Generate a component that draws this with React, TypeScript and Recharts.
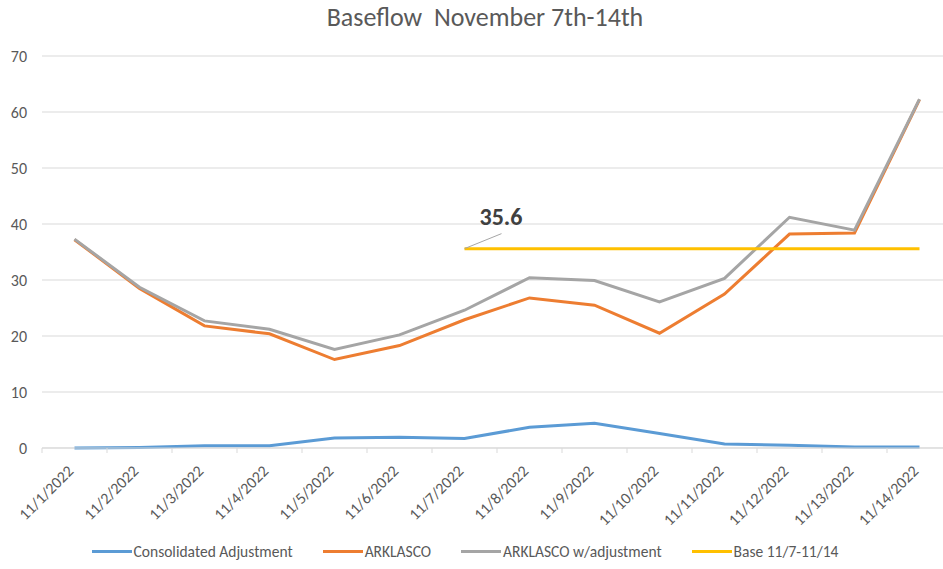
import { LineChart, Line, XAxis, YAxis, CartesianGrid, Legend, LabelList } from "recharts";

const dates = [
  "11/1/2022", "11/2/2022", "11/3/2022", "11/4/2022", "11/5/2022", "11/6/2022", "11/7/2022",
  "11/8/2022", "11/9/2022", "11/10/2022", "11/11/2022", "11/12/2022", "11/13/2022", "11/14/2022",
];
const consolidatedAdjustment = [0, 0.1, 0.4, 0.4, 1.8, 1.9, 1.7, 3.7, 4.4, 2.6, 0.7, 0.5, 0.2, 0.2];
const arklasco = [37.2, 28.5, 21.8, 20.4, 15.8, 18.3, 22.9, 26.8, 25.5, 20.5, 27.5, 38.2, 38.4, 62.2];
const arklascoAdjusted = [37.3, 28.7, 22.7, 21.2, 17.6, 20.2, 24.6, 30.4, 29.9, 26.1, 30.3, 41.2, 38.9, 62.3];
const base = [null, null, null, null, null, null, 35.6, 35.6, 35.6, 35.6, 35.6, 35.6, 35.6, 35.6];
const yTicks = [0, 10, 20, 30, 40, 50, 60, 70];
const legendOrder = ["Consolidated Adjustment", "ARKLASCO", "ARKLASCO w/adjustment", "Base 11/7-11/14"];

const data = dates.map((d, i) => ({
  date: d,
  consolidated: consolidatedAdjustment[i],
  arklasco: arklasco[i],
  adjusted: arklascoAdjusted[i],
  base: base[i],
}));

const FONT = "Carlito, 'Liberation Sans', Arial, sans-serif";
const TEXT = "#595959";
const STEP = 65;

function DateTick(props: any) {
  const { x, y, payload, index } = props;
  const last = index === dates.length - 1;
  return (
    <g>
      <line x1={x - STEP / 2} y1={y - 8} x2={x - STEP / 2} y2={y - 3} stroke="#d9d9d9" />
      {last && <line x1={x + STEP / 2} y1={y - 8} x2={x + STEP / 2} y2={y - 3} stroke="#d9d9d9" />}
      <text
        x={x}
        y={y + 16}
        transform={`rotate(-45, ${x}, ${y + 16})`}
        textAnchor="end"
        fontSize={16}
        fill={TEXT}
        fontFamily={FONT}
      >
        {payload.value}
      </text>
    </g>
  );
}

function BaseLabel(props: any) {
  const { x, y, value, index } = props;
  if (index !== 6) return null;
  return (
    <g>
      <line x1={x} y1={y} x2={x + 37} y2={y - 15} stroke="#a6a6a6" strokeWidth={1} />
      <text x={x + 15} y={y - 24} fontSize={24} fontWeight="bold" fill="#404040" fontFamily={FONT}>
        {value}
      </text>
    </g>
  );
}

function LegendContent(props: any) {
  const items = [...(props.payload || [])].sort(
    (a: any, b: any) => legendOrder.indexOf(a.value) - legendOrder.indexOf(b.value)
  );
  return (
    <div
      style={{
        display: "flex",
        justifyContent: "center",
        fontFamily: FONT,
        fontSize: 15.5,
        color: TEXT,
        paddingRight: 22,
        whiteSpace: "nowrap",
      }}
    >
      {items.map((p: any) => (
        <div key={p.value} style={{ display: "flex", alignItems: "center", margin: "0 15px", flexShrink: 0 }}>
          <span style={{ display: "inline-block", width: 40, height: 3, background: p.color, marginRight: 2 }} />
          <span>{p.value}</span>
        </div>
      ))}
    </div>
  );
}

export default function App() {
  return (
    <div style={{ position: "absolute", left: 0, top: 0, width: 943, height: 569, overflow: "hidden", background: "#fff" }}>
      <div
        style={{
          position: "absolute",
          top: 1,
          left: 0,
          width: 970,
          textAlign: "center",
          fontFamily: FONT,
          fontSize: 26,
          color: TEXT,
          whiteSpace: "pre",
        }}
      >
        {"Baseflow  November 7th-14th"}
      </div>
      <LineChart width={960} height={569} data={data} margin={{ top: 56, right: 8, left: 0, bottom: 8 }}>
        <CartesianGrid vertical={false} stroke="#d9d9d9" />
        <XAxis
          dataKey="date"
          interval={0}
          padding={{ left: STEP / 2, right: STEP / 2 }}
          tickLine={false}
          axisLine={{ stroke: "#d9d9d9" }}
          tick={<DateTick />}
          height={94}
        />
        <YAxis
          domain={[0, 70]}
          ticks={yTicks}
          width={42}
          axisLine={false}
          tickLine={false}
          tickMargin={9}
          tick={{ fontSize: 16, fill: TEXT, fontFamily: FONT }}
        />
        <Legend verticalAlign="bottom" content={<LegendContent />} />
        <Line dataKey="consolidated" name="Consolidated Adjustment" stroke="#5B9BD5" strokeWidth={3} dot={false} isAnimationActive={false} />
        <Line dataKey="arklasco" name="ARKLASCO" stroke="#ED7D31" strokeWidth={3} dot={false} isAnimationActive={false} />
        <Line dataKey="adjusted" name="ARKLASCO w/adjustment" stroke="#A5A5A5" strokeWidth={3} dot={false} isAnimationActive={false} />
        <Line dataKey="base" name="Base 11/7-11/14" stroke="#FFC000" strokeWidth={3} dot={false} isAnimationActive={false}>
          <LabelList dataKey="base" content={<BaseLabel />} />
        </Line>
      </LineChart>
    </div>
  );
}
